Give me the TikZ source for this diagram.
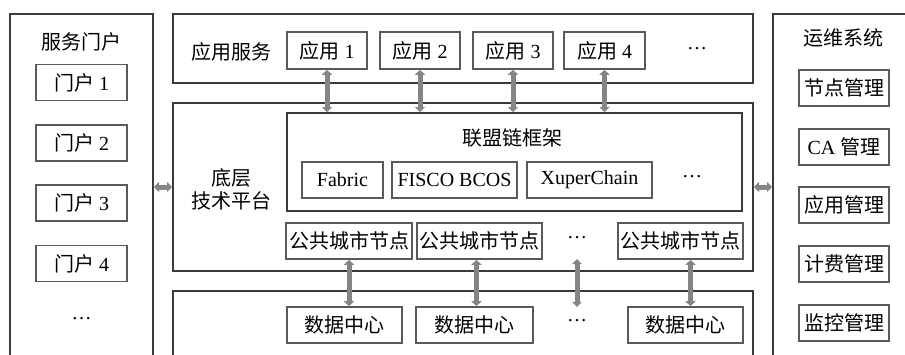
\documentclass[tikz,border=0pt]{standalone}
\usepackage{fontspec}
\setmainfont{Liberation Serif}
\newfontfamily\cjk{Noto Sans CJK SC}
\usetikzlibrary{arrows.meta,calc}
\definecolor{outerc}{HTML}{3A3A3A}
\definecolor{innerc}{HTML}{5A5A5A}
\definecolor{arrc}{HTML}{858585}
\begin{document}
\begin{tikzpicture}[x=1pt,y=-1pt,
  every node/.style={font=\fontsize{20}{23}\selectfont, inner sep=0pt, text=black},
  outerbox/.style={draw=outerc, line width=2pt, rectangle},
  innerbox/.style={draw=innerc, line width=1.6pt, rectangle, minimum height=36pt},
  lbl/.style={align=center},
  dbl/.style={draw=arrc, line width=5pt, {Triangle[width=10pt,length=5pt]}-{Triangle[width=10pt,length=5pt]}, shorten <=0pt, shorten >=0pt}
]
\useasboundingbox (0,0) rectangle (905,354);
% outer boxes
\node[outerbox, minimum width=143pt, minimum height=366pt] (L) at (81.5,197) {};
\node[outerbox, minimum width=580pt, minimum height=69pt] (A) at (463,48.5) {};
\node[outerbox, minimum width=580pt, minimum height=168pt] (P) at (463,187) {};
\node[outerbox, minimum width=580pt, minimum height=89pt] (D) at (463,335.5) {};
\node[outerbox, minimum width=167pt, minimum height=366pt] (R) at (856.5,197) {};

% left column
\node (Lt) at (81.5,42) {\cjk 服务门户};
\node[innerbox, minimum width=91pt] (p1) at (81.5,82.5) {{\cjk 门户} 1};
\node[innerbox, minimum width=91pt] (p2) at (81.5,143) {{\cjk 门户} 2};
\node[innerbox, minimum width=91pt] (p3) at (81.5,203) {{\cjk 门户} 3};
\node[innerbox, minimum width=91pt] (p4) at (81.5,263.5) {{\cjk 门户} 4};
\node (pd) at (81.5,319) {…};

% application row
\node (At) at (231,52) {\cjk 应用服务};
\node[innerbox, minimum width=80pt, minimum height=37pt] (a1) at (327,50.5) {{\cjk 应用} 1};
\node[innerbox, minimum width=80pt, minimum height=37pt] (a2) at (420,50.5) {{\cjk 应用} 2};
\node[innerbox, minimum width=80pt, minimum height=37pt] (a3) at (513,50.5) {{\cjk 应用} 3};
\node[innerbox, minimum width=81pt, minimum height=37pt] (a4) at (604.5,50.5) {{\cjk 应用} 4};
\node (ad) at (697,49) {…};

% platform
\node[lbl] (Pt) at (231,189) {\cjk 底层\\\cjk 技术平台};
\node[draw=outerc, line width=2pt, minimum width=455pt, minimum height=98pt] (F) at (514.5,162) {};
\node (Ft) at (512,138) {\cjk 联盟链框架};
\node[innerbox, minimum width=81pt] (f1) at (342.5,180) {Fabric};
\node[innerbox, minimum width=125pt] (f2) at (454.5,180) {FISCO BCOS};
\node[innerbox, minimum width=125pt] (f3) at (589.5,180) {XuperChain};
\node (fd) at (692,177) {…};
\node[innerbox, minimum width=126pt] (g1) at (349,241) {\cjk 公共城市节点};
\node[innerbox, minimum width=125pt] (g2) at (479.5,241) {\cjk 公共城市节点};
\node[minimum height=36pt] (gd) at (577,241) {};
\node at (577,238) {…};
\node[innerbox, minimum width=125pt] (g3) at (680.5,241) {\cjk 公共城市节点};

% data centers
\node[innerbox, minimum width=115pt] (d1) at (344.5,325) {\cjk 数据中心};
\node[innerbox, minimum width=117pt] (d2) at (474.5,325) {\cjk 数据中心};
\node[minimum height=36pt] (dd) at (577,325) {};
\node at (577,321) {…};
\node[innerbox, minimum width=115pt] (d3) at (685.5,325) {\cjk 数据中心};

% right column
\node (Rt) at (843,38) {\cjk 运维系统};
\node[innerbox, minimum width=90pt] (m1) at (844,88) {\cjk 节点管理};
\node[innerbox, minimum width=90pt] (m2) at (844,147) {CA {\cjk 管理}};
\node[innerbox, minimum width=90pt] (m3) at (844,205) {\cjk 应用管理};
\node[innerbox, minimum width=90pt] (m4) at (844,264) {\cjk 计费管理};
\node[innerbox, minimum width=90pt] (m5) at (844,323) {\cjk 监控管理};

% arrows
\draw[dbl] (L.east |- P.west) -- (P.west);
\draw[dbl] (P.east) -- (R.west |- P.east);
\foreach \n in {a1,a2,a3,a4}{
  \draw[dbl] (\n.south) -- (\n.south |- F.north);
}
\draw[dbl] (g1.south) -- (g1.south |- d1.north);
\draw[dbl] ([xshift=-3pt]g2.south) -- ([xshift=-3pt]g2.south |- d2.north);
\draw[dbl] (gd.south) -- (dd.north);
\draw[dbl] ([xshift=10pt]g3.south) -- ([xshift=10pt]g3.south |- d3.north);
\end{tikzpicture}
\end{document}
